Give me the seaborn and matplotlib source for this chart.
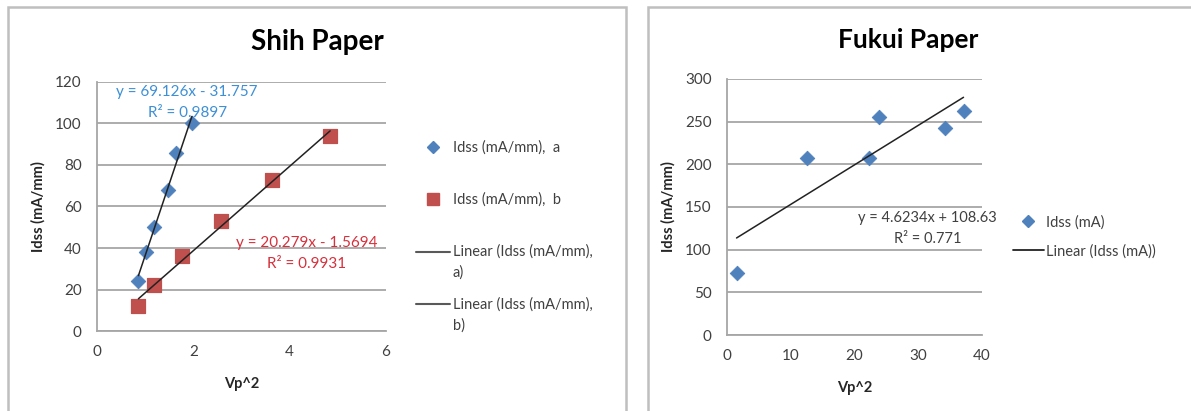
import numpy as np
import matplotlib.pyplot as plt
import seaborn as sns
from matplotlib.lines import Line2D
from matplotlib.patches import Rectangle
from matplotlib.legend_handler import HandlerLine2D

# Shih paper, two series
shih_x_a = [0.86, 1.01, 1.18, 1.47, 1.65, 1.97]
shih_y_a = [24, 38, 50, 68, 86, 100]
shih_x_b = [0.86, 1.18, 1.76, 2.57, 3.63, 4.84]
shih_y_b = [12, 22, 36, 53, 73, 94]

# Fukui paper
fukui_x = [1.5, 12.5, 22.2, 23.9, 34.2, 37.1]
fukui_y = [73, 207, 207, 256, 243, 263]

shih_eq_a = ["y = 69.126x - 31.757", "R\u00b2 = 0.9897"]
shih_eq_b = ["y = 20.279x - 1.5694", "R\u00b2 = 0.9931"]
fukui_eq = ["y = 4.6234x + 108.63", "R\u00b2 = 0.771"]

BLUE = "#4F81BD"
RED = "#C0504D"
GRID = "#A6A6A6"
TXT = "#404040"

sns.set_theme(style="white")
plt.rcParams['font.family'] = ['Lato', 'DejaVu Sans']

W, H = 1191, 411
fig = plt.figure(figsize=(W / 100, H / 100), dpi=100)

# panel frames
for x0, x1 in [(8, 626), (648, 1200)]:
    fig.patches.append(Rectangle((x0 / W, -0.05), (x1 - x0) / W, 1.05 - 7 / H,
                                 transform=fig.transFigure, fill=False,
                                 edgecolor="#BFBFBF", linewidth=1.8))


class TopHandler(HandlerLine2D):
    """Line/marker handle lifted to sit on the first text line."""
    def __init__(self, dy, **kw):
        super().__init__(**kw)
        self.dy = dy

    def create_artists(self, legend, orig_handle, xdescent, ydescent, width,
                       height, fontsize, trans):
        arts = super().create_artists(legend, orig_handle, xdescent, ydescent,
                                      width, height, fontsize, trans)
        for a in arts:
            a.set_ydata(np.asarray(a.get_ydata()) + self.dy)
        return arts


def style_axes(ax, xlim, ylim, xticks, yticks):
    ax.set_xlim(*xlim)
    ax.set_ylim(*ylim)
    ax.set_xticks(xticks)
    ax.set_yticks(yticks)
    ax.yaxis.grid(True, color=GRID, linewidth=1.3)
    ax.set_axisbelow(True)
    for s in ["top", "right"]:
        ax.spines[s].set_visible(False)
    for s in ["left", "bottom"]:
        ax.spines[s].set_color(GRID)
        ax.spines[s].set_linewidth(1.3)
    ax.tick_params(length=0, labelsize=11, labelcolor=TXT)
    ax.tick_params(axis="y", pad=11)
    ax.tick_params(axis="x", pad=10)
    ax.set_xlabel("Vp^2", fontsize=10.5, fontweight="bold", color="#262626", labelpad=13)
    ax.set_ylabel("Idss (mA/mm)", fontsize=10.5, fontweight="bold", color="#262626", labelpad=7)


# ---- left: Shih ----
ax1 = fig.add_axes([97 / W, 1 - 331 / H, (386 - 97) / W, (331 - 82) / H])
sns.scatterplot(x=shih_x_a, y=shih_y_a, ax=ax1, marker="D", s=55, color=BLUE,
                edgecolor=BLUE, zorder=3)
sns.scatterplot(x=shih_x_b, y=shih_y_b, ax=ax1, marker="s", s=115, color=RED,
                edgecolor=RED, zorder=3)
sns.regplot(x=shih_x_a, y=shih_y_a, ax=ax1, scatter=False, ci=None, truncate=True,
            line_kws=dict(color="#222222", linewidth=1.1, zorder=4))
sns.regplot(x=shih_x_b, y=shih_y_b, ax=ax1, scatter=False, ci=None, truncate=True,
            line_kws=dict(color="#222222", linewidth=1.1, zorder=4))
style_axes(ax1, (0, 6), (0, 120), [0, 2, 4, 6], range(0, 121, 20))
ax1.text(1.87, 115, shih_eq_a[0], color="#3D8FD6", fontsize=11, ha="center", va="center")
ax1.text(1.87, 105, shih_eq_a[1], color="#3D8FD6", fontsize=11, ha="center", va="center")
ax1.text(4.35, 42.5, shih_eq_b[0], color="#D6303C", fontsize=11, ha="center", va="center")
ax1.text(4.35, 32.5, shih_eq_b[1], color="#D6303C", fontsize=11, ha="center", va="center")
fig.text(317 / W, 1 - 42 / H, "Shih Paper", fontsize=20, fontweight="bold",
         ha="center", va="center", color="black")

h1 = [Line2D([], [], marker="D", color=BLUE, linestyle="none", markersize=6),
      Line2D([], [], marker="s", color=RED, linestyle="none", markersize=8),
      Line2D([], [], color="#595959", linewidth=1.5),
      Line2D([], [], color="#595959", linewidth=1.5)]
l1 = ["Idss (mA/mm),  a\n ", "Idss (mA/mm),  b\n ",
      "Linear (Idss (mA/mm),\na)", "Linear (Idss (mA/mm),\nb)"]
leg1 = ax1.legend(h1, l1, loc="upper left", bbox_to_anchor=(416 / W, 1 - 140 / H),
                  bbox_transform=fig.transFigure, frameon=False, fontsize=10.5,
                  handlelength=2.33, handletextpad=0.2, labelspacing=1.17, borderpad=0,
                  borderaxespad=0, handler_map={Line2D: TopHandler(8)})
for t in leg1.get_texts():
    t.set_color(TXT)
    t.set_linespacing(1.62)

# ---- right: Fukui ----
ax2 = fig.add_axes([727 / W, 1 - 335 / H, (982 - 727) / W, (335 - 79) / H])
sns.scatterplot(x=fukui_x, y=fukui_y, ax=ax2, marker="D", s=55, color=BLUE,
                edgecolor=BLUE, zorder=3)
sns.regplot(x=fukui_x, y=fukui_y, ax=ax2, scatter=False, ci=None, truncate=True,
            line_kws=dict(color="#222222", linewidth=1.1, zorder=4))
style_axes(ax2, (0, 40), (0, 300), range(0, 41, 10), range(0, 301, 50))
ax2.text(31.5, 137, fukui_eq[0], color=TXT, fontsize=10.5, ha="center", va="center")
ax2.text(31.5, 113, fukui_eq[1], color=TXT, fontsize=10.5, ha="center", va="center")
fig.text(908 / W, 1 - 40 / H, "Fukui Paper", fontsize=19, fontweight="bold",
         ha="center", va="center", color="black")

h2 = [Line2D([], [], marker="D", color=BLUE, linestyle="none", markersize=6),
      Line2D([], [], color="#222222", linewidth=1.3)]
l2 = ["Idss (mA)", "Linear (Idss (mA))"]
leg2 = ax2.legend(h2, l2, loc="upper left", bbox_to_anchor=(1013 / W, 1 - 215 / H),
                  bbox_transform=fig.transFigure, frameon=False, fontsize=10.5,
                  handlelength=2.1, handletextpad=0.15, labelspacing=1.0, borderpad=0,
                  borderaxespad=0)
for t in leg2.get_texts():
    t.set_color(TXT)

fig.savefig("out.png", dpi=100)
